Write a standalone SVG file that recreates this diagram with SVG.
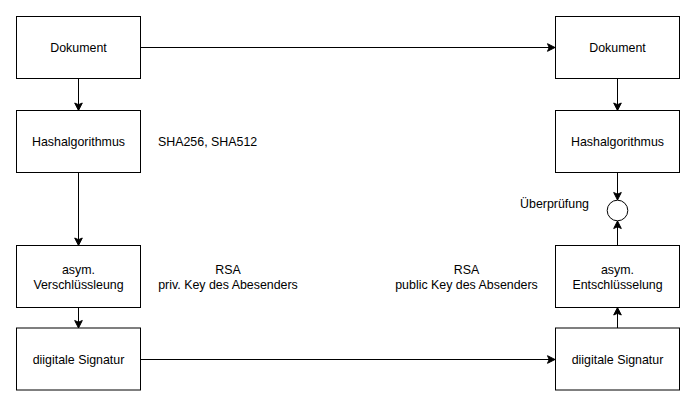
<svg xmlns="http://www.w3.org/2000/svg" width="694" height="404" viewBox="0 0 694 404">
<style>
.box{fill:#fff;stroke:#000;stroke-width:1}
.t{font-family:"Liberation Sans",Arial,sans-serif;font-size:12.4px;fill:#000;text-anchor:middle}
.e{stroke:#000;stroke-width:1;fill:none;marker-end:url(#arr)}
</style>
<defs>
<marker id="arr" markerUnits="userSpaceOnUse" markerWidth="10" markerHeight="10" viewBox="0 0 10 10" refX="9" refY="5" orient="auto">
<path d="M1.5,1.2 L9,5 L1.5,8.8 L3.2,5 Z" fill="#000" stroke="#000" stroke-width="1"/>
</marker>
</defs>
<rect width="694" height="404" fill="#fff"/>
<g id="connectors">
<path class="e" d="M140,47.5 H555"/>
<path class="e" d="M140,359.5 H555"/>
<path class="e" d="M78.5,78.5 V110.5"/>
<path class="e" d="M78.5,172.5 V245.5"/>
<path class="e" d="M78.5,307.5 V328"/>
<path class="e" d="M617.5,78.5 V110.5"/>
<path class="e" d="M617.5,172.5 V200"/>
<path class="e" d="M617.5,328 V307.5"/>
<path class="e" d="M617.5,245.5 V221"/>
</g>
<g id="doc-left"><rect class="box" x="16.5" y="16.5" width="124" height="62"/><text class="t" x="78.5" y="51.5">Dokument</text></g>
<g id="hash-left"><rect class="box" x="16.5" y="110.5" width="124" height="62"/><text class="t" x="78.5" y="145.8">Hashalgorithmus</text></g>
<g id="enc-left"><rect class="box" x="16.5" y="245.5" width="124" height="62"/><text class="t" x="78.5" y="274">asym.</text><text class="t" x="78.5" y="288.5">Verschlüssleung</text></g>
<g id="sig-left"><rect class="box" x="16.5" y="328" width="124" height="62"/><text class="t" x="78.5" y="363.5">diigitale Signatur</text></g>
<g id="doc-right"><rect class="box" x="555.5" y="16.5" width="124" height="62"/><text class="t" x="617.5" y="51.5">Dokument</text></g>
<g id="hash-right"><rect class="box" x="555.5" y="110.5" width="124" height="62"/><text class="t" x="617.5" y="145.8">Hashalgorithmus</text></g>
<g id="dec-right"><rect class="box" x="555.5" y="245.5" width="124" height="62"/><text class="t" x="617.5" y="274">asym.</text><text class="t" x="617.5" y="288.5">Entschlüsselung</text></g>
<g id="sig-right"><rect class="box" x="555.5" y="328" width="124" height="62"/><text class="t" x="617.5" y="363.5">diigitale Signatur</text></g>
<g id="check"><circle cx="617.5" cy="210.5" r="10.3" fill="#fff" stroke="#000" stroke-width="1"/><text class="t" x="589" y="208" style="text-anchor:end">Überprüfung</text></g>
<g id="label-sha"><text class="t" x="158" y="146" style="text-anchor:start">SHA256, SHA512</text></g>
<g id="label-rsa-priv"><text class="t" x="228" y="274">RSA</text><text class="t" x="228" y="288.5">priv. Key des Abesenders</text></g>
<g id="label-rsa-pub"><text class="t" x="466.5" y="274">RSA</text><text class="t" x="466.5" y="288.5">public Key des Absenders</text></g>
</svg>
